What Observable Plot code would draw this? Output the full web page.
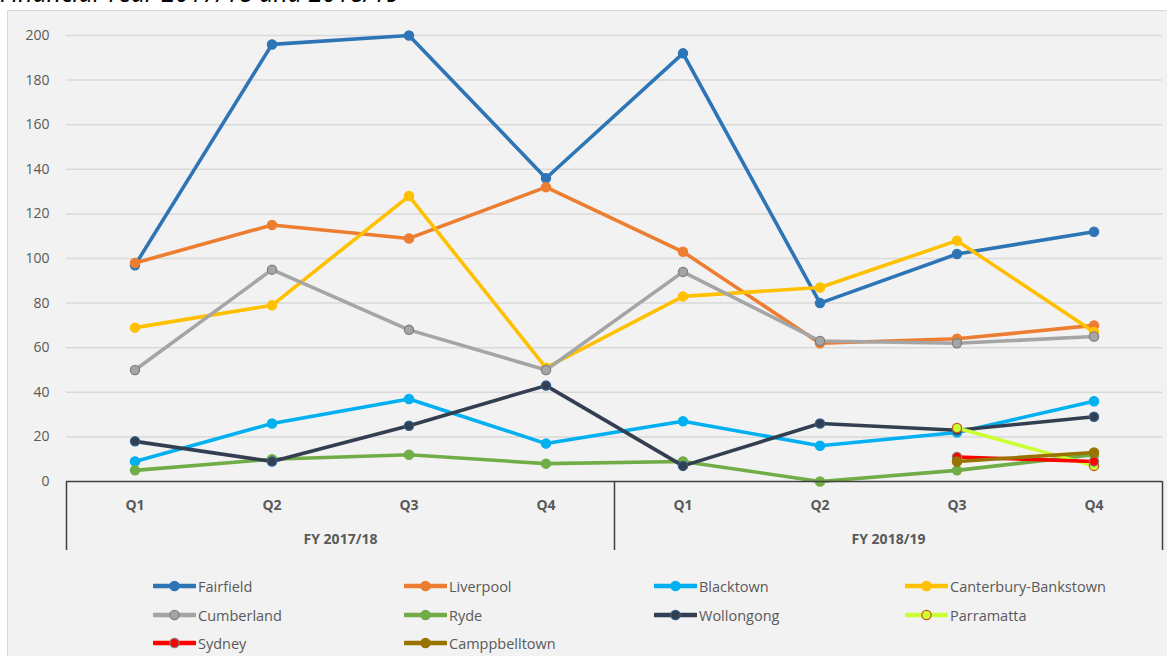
<!DOCTYPE html>
<html>
<head>
<meta charset="utf-8">
<script src="https://cdn.jsdelivr.net/npm/d3@7"></script>
<script src="https://cdn.jsdelivr.net/npm/@observablehq/plot@0.6"></script>
<style>
  html, body { margin: 0; padding: 0; background: #ffffff; width: 1167px; height: 656px; overflow: hidden; position: relative; font-family: "Open Sans", sans-serif; }
  #box { position: absolute; left: 7px; top: 10px; width: 1170px; height: 660px; background: #f2f2f2; border: 1px solid #d9d9d9; box-sizing: border-box; }
  #title { position: absolute; left: 0px; top: -23px; font-size: 25px; line-height: 30px; font-style: italic; color: #000; white-space: nowrap; }
  #chart { position: absolute; left: 0; top: 0; }
  #legend { position: absolute; left: 0; top: 0; }
  .item { position: absolute; display: flex; align-items: center; font-size: 14.5px; color: #595959; height: 20px; white-space: nowrap; }
  .item svg { margin-right: 2px; }
</style>
</head>
<body>
<div id="box"></div>
<div id="title">Financial Year 2017/18 and 2018/19</div>
<div id="chart"></div>
<div id="legend"></div>
<script>
const quarters = ["Q1","Q2","Q3","Q4","Q1","Q2","Q3","Q4"];
const years = ["FY 2017/18","FY 2018/19"];
const yTicks = [0,20,40,60,80,100,120,140,160,180,200];

const councils = ["Fairfield","Liverpool","Blacktown","Canterbury-Bankstown","Cumberland","Ryde","Wollongong","Parramatta","Sydney","Camppbelltown"];
const fairfield  = [97, 196, 200, 136, 192, 80, 102, 112];
const liverpool  = [98, 115, 109, 132, 103, 62, 64, 70];
const blacktown  = [9, 26, 37, 17, 27, 16, 22, 36];
const canterbury = [69, 79, 128, 51, 83, 87, 108, 67];
const cumberland = [50, 95, 68, 50, 94, 63, 62, 65];
const ryde       = [5, 10, 12, 8, 9, 0, 5, 12];
const wollongong = [18, 9, 25, 43, 7, 26, 23, 29];
const parramatta = [null, null, null, null, null, null, 24, 7];
const sydney     = [null, null, null, null, null, null, 11, 9];
const campbelltown = [null, null, null, null, null, null, 9, 13];
const seriesValues = [fairfield, liverpool, blacktown, canterbury, cumberland, ryde, wollongong, parramatta, sydney, campbelltown];

const lineColors   = ["#2e75b6","#ed7d31","#00b0f0","#ffc000","#a5a5a5","#70ad47","#333f50","#ccff33","#ff0000","#997300"];
const markerFill   = ["#2e75b6","#ed7d31","#00b0f0","#ffc000","#a5a5a5","#70ad47","#333f50","#ccff33","#ff0000","#997300"];
const markerStroke = ["#2e75b6","#ed7d31","#00b0f0","#ffc000","#7f7f7f","#70ad47","#2e5f8f","#c55a11","#7f7f7f","#997300"];

const marks = [
  Plot.ruleY(yTicks.slice(1), {stroke: "#d9d9d9", strokeWidth: 1.5}),
  Plot.axisY({ticks: yTicks, tickSize: 0, tickPadding: 17, fontSize: 14, fill: "#595959", label: null, fontFamily: "Open Sans"}),
];

seriesValues.forEach((vals, s) => {
  const rows = vals.map((v, i) => ({council: councils[s], i, value: v})).filter(d => d.value != null);
  marks.push(Plot.line(rows, {x: "i", y: "value", stroke: lineColors[s], strokeWidth: 3.6, strokeLinejoin: "round", strokeLinecap: "round"}));
  marks.push(Plot.dot(rows, {x: "i", y: "value", r: 4.6, fill: markerFill[s], stroke: markerStroke[s], strokeWidth: 1.3}));
});

marks.push(
  Plot.ruleY([0], {stroke: "#404040", strokeWidth: 1.5}),
  Plot.ruleX([-0.5, 3.5, 7.5], {stroke: "#404040", strokeWidth: 1.5, insetTop: 446}),
  Plot.text(quarters, {x: (d, i) => i, y: () => 0, dy: 24, text: d => d, fontWeight: "bold", fontSize: 14, fill: "#595959", fontFamily: "Open Sans"}),
  Plot.text(years, {x: (d, i) => i * 4 + 1.5, y: () => 0, dy: 58, text: d => d, fontWeight: "bold", fontSize: 14, fill: "#595959", fontFamily: "Open Sans"})
);

const chart = Plot.plot({
  width: 1167,
  height: 556,
  marginLeft: 66,
  marginRight: 5,
  marginTop: 35,
  marginBottom: 6,
  style: {background: "transparent", overflow: "visible"},
  x: {type: "linear", domain: [-0.5, 7.5], axis: null},
  y: {domain: [0, 200], range: [481, 35], axis: null},
  marks
});
document.getElementById("chart").appendChild(chart);

// Legend
const colX = [153, 404, 654, 905];
const rowY = [586, 615, 643];
const legend = d3.select("#legend");
councils.forEach((name, s) => {
  const col = s % 4, row = Math.floor(s / 4);
  const item = legend.append("div").attr("class", "item")
    .style("left", colX[col] + "px").style("top", (rowY[row] - 10) + "px");
  const svg = item.append("svg").attr("width", 43).attr("height", 16);
  svg.append("line").attr("x1", 1).attr("x2", 42).attr("y1", 8).attr("y2", 8)
    .attr("stroke", lineColors[s]).attr("stroke-width", 4.5).attr("stroke-linecap", "round");
  svg.append("circle").attr("cx", 21.5).attr("cy", 8).attr("r", 4.6)
    .attr("fill", markerFill[s]).attr("stroke", markerStroke[s]).attr("stroke-width", 1.3);
  item.append("span").text(name);
});
</script>
</body>
</html>
